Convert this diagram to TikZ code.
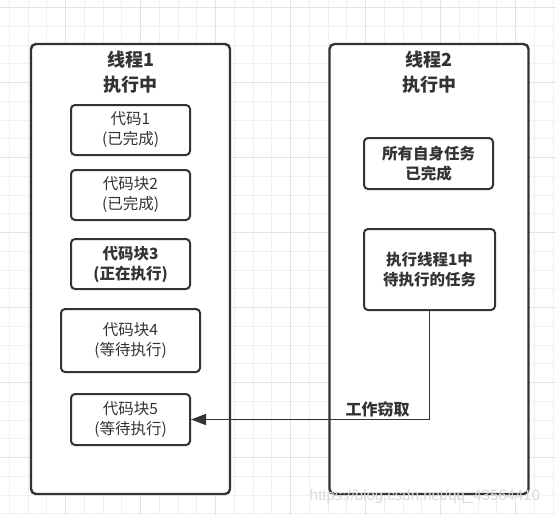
\documentclass[tikz,border=0pt]{standalone}
\usepackage{fontspec}
\setmainfont{Noto Sans CJK SC}
\newfontfamily\wmfont{Liberation Sans}
\usetikzlibrary{arrows.meta}
\definecolor{ink}{HTML}{333333}
\definecolor{gridminor}{HTML}{F0F0F0}
\definecolor{gridmajor}{HTML}{E4E4E4}
\tikzset{
  thread/.style={draw=ink,line width=2.4pt,rounded corners=5pt,fill=white,
    minimum width=199pt,minimum height=450pt},
  head/.style={text=ink,align=center,font=\bfseries\fontsize{18}{25}\selectfont},
  code/.style={draw=ink,line width=2pt,rounded corners=4pt,fill=white,text=ink,
    align=center,minimum width=119pt,minimum height=50pt,
    font=\fontsize{15.5}{20}\selectfont},
  busy/.style={code,font=\bfseries\fontsize{15.5}{20}\selectfont},
  link/.style={draw=ink,line width=1.4pt,-{Triangle[length=15pt,width=11pt]}},
  lbl/.style={text=ink,font=\bfseries\fontsize{16}{20}\selectfont},
  wmark/.style={text=gray!30,font=\wmfont\fontsize{15}{18}\selectfont}
}
\begin{document}
\begin{tikzpicture}[x=1pt,y=-1pt]
  \useasboundingbox[fill=white] (0,0) rectangle (556,515);
  % background grid
  \foreach \i in {0,...,29} {
    \draw[gridminor,line width=0.9pt] (9.3+18.75*\i,0) -- ++(0,515);
    \draw[gridminor,line width=0.9pt] (0,7.5+18.75*\i) -- ++(556,0);
  }
  \foreach \i in {0,...,7} {
    \draw[gridmajor,line width=0.9pt] (-9.1+75*\i,0) -- ++(0,515);
    \draw[gridmajor,line width=0.9pt] (0,7.5+75*\i) -- ++(556,0);
  }

  % thread 1
  \node[thread] (t1) at (130.5,269) {};
  \node[head] (t1head) at (130.5,72) {线程1\\执行中};
  \node[code] (c1) at (130.5,130) {代码1\\(已完成)};
  \node[code] (c2) at (130.5,195) {代码块2\\(已完成)};
  \node[busy] (c3) at (130.5,264) {代码块3\\(正在执行)};
  \node[code,minimum width=139pt,minimum height=63pt] (c4) at (130.5,340.5) {代码块4\\(等待执行)};
  \node[code,minimum height=51pt] (c5) at (130.5,419.5) {代码块5\\(等待执行)};

  % thread 2
  \node[thread] (t2) at (429,269) {};
  \node[head] (t2head) at (429,72) {线程2\\执行中};
  \node[busy,minimum width=129pt,minimum height=51pt] (r1) at (428.5,163.5) {所有自身任务\\已完成};
  \node[busy,minimum width=131pt,minimum height=81pt] (r2) at (429.5,269.5) {执行线程1中\\待执行的任务};

  % stealing
  \draw[link] (r2.south) |- (c5.east);
  \node[lbl] (steal) at (377.5,409) {工作窃取};

  \node[wmark] (wm) at (425,497) {https://blog.csdn.net/qq\_43564410};
\end{tikzpicture}
\end{document}
